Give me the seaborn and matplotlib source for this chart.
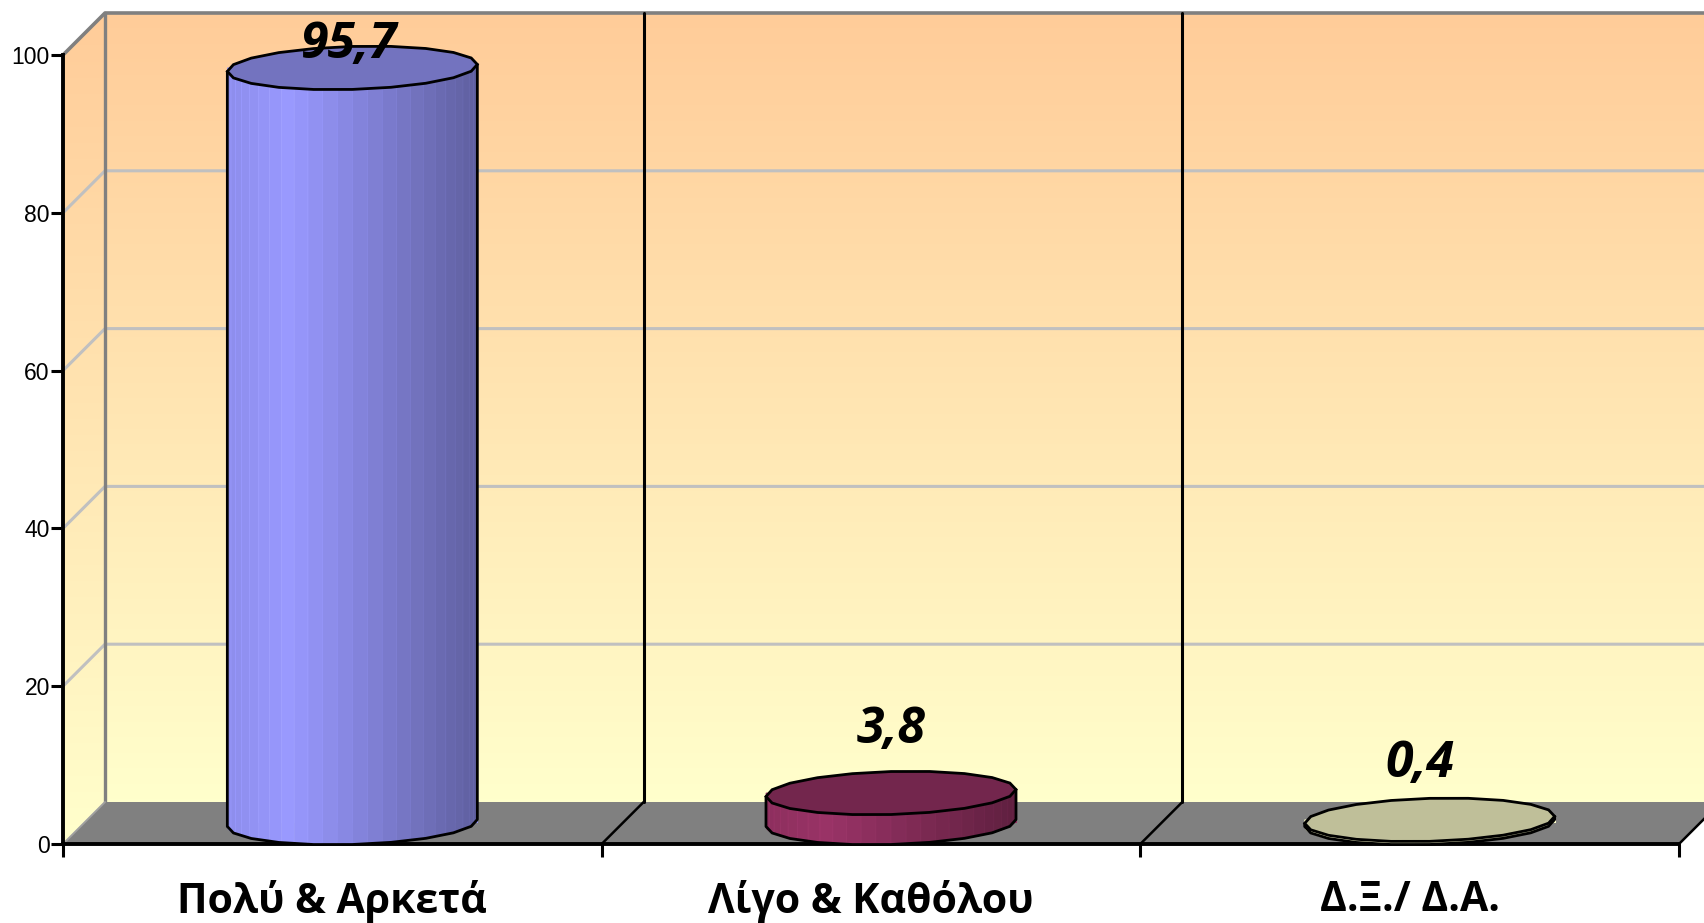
import numpy as np
import matplotlib
matplotlib.use("Agg")
import matplotlib.pyplot as plt
from matplotlib.colors import LinearSegmentedColormap, to_rgb
from matplotlib.patches import Polygon
from matplotlib.transforms import Affine2D
import seaborn as sns

# Data
categories = ["Πολύ & Αρκετά", "Λίγο & Καθόλου", "Δ.Ξ./ Δ.Α."]
values = [95.7, 3.8, 0.4]
y_ticks = [0, 20, 40, 60, 80, 100]
bar_colors = ["#9999FF", "#993366", "#FFFFCC"]

W, H = 1704, 923
left, right, top, bottom = 63, 1679, 55, 844
dx, dy = 42, 42   # depth of the fake 3D box
rx, ry = 125, 21.5  # cylinder ellipse
tilt = 3.5

sns.set_theme(style="white")
plt.rcParams["font.family"] = ["Open Sans", "DejaVu Sans"]

fig = plt.figure(figsize=(W / 100, H / 100), dpi=100, facecolor="white")

# Background box, in pixel coordinates
bg = fig.add_axes([0, 0, 1, 1], zorder=0)
cmap = LinearSegmentedColormap.from_list("wall", ["#FFCC99", "#FFFFCC"])
grad = np.linspace(0, 1, 256).reshape(-1, 1)

back = bg.imshow(grad, extent=[left + dx, W + 50, bottom - dy, top - dy], cmap=cmap, aspect="auto")
side = bg.imshow(grad, extent=[left, left + dx, bottom, top - dy], cmap=cmap, aspect="auto")
side_poly = Polygon([(left, top), (left + dx, top - dy), (left + dx, bottom - dy), (left, bottom)],
                    transform=bg.transData, fc="none", ec="none")
bg.add_patch(side_poly)
side.set_clip_path(side_poly)
bg.set_xlim(0, W)
bg.set_ylim(H, 0)
bg.axis("off")

bg.add_patch(Polygon([(left, bottom), (right, bottom), (right + dx, bottom - dy), (left + dx, bottom - dy)],
                     fc="#808080", ec="none", zorder=2))

# gridlines on the walls
span = bottom - top
for v in y_ticks[1:-1]:
    y = bottom - span * v / 100
    bg.plot([left, left + dx, W], [y, y - dy, y - dy], color="#C0C0C0", lw=2.2, zorder=3)
bg.plot([left, left + dx, W], [top, top - dy, top - dy], color="#808080", lw=2.6, zorder=3)
bg.plot([left + dx, left + dx], [top - dy, bottom - dy], color="#808080", lw=2.4, zorder=3)
bg.plot([left, left + dx], [bottom, bottom - dy], color="#A0A0A0", lw=1.4, zorder=3)

# Main axes with the real scales
ax = fig.add_axes([left / W, 1 - bottom / H, (right - left) / W, (bottom - top) / H], zorder=1)
ax.patch.set_alpha(0)
sns.barplot(x=categories, y=values, hue=categories, palette=bar_colors, width=0.464,
            legend=False, ax=ax, saturation=1, edgecolor="none")
ax.set_xlim(-0.5, 2.5)
ax.set_ylim(0, 100)
ax.set_yticks(y_ticks)
ax.set_xticks([-0.5, 0.5, 1.5, 2.5])
ax.set_xticklabels([])
ax.set_xticks([0, 1, 2], minor=True)
ax.set_xticklabels(categories, minor=True, fontsize=29.5, fontweight="bold", color="black")
ax.tick_params(axis="x", which="major", length=9.5, width=2.2, color="black", bottom=True)
ax.tick_params(axis="x", which="minor", length=0, pad=26)
ax.tick_params(axis="y", length=8.5, width=2.2, color="black", left=True, pad=1)
for lab in ax.get_yticklabels():
    lab.set_fontfamily("Liberation Sans")
    lab.set_fontsize(16.5)
    lab.set_color("black")
for name in ["top", "right"]:
    ax.spines[name].set_visible(False)
for name in ["left", "bottom"]:
    ax.spines[name].set_linewidth(2.8)
    ax.spines[name].set_color("black")
ax.set_xlabel("")
ax.set_ylabel("")

# category separators on wall and floor
for b in [0.5, 1.5, 2.5]:
    xb = ax.transData.transform((b, 0))[0]
    if b < 2.5:
        bg.plot([xb + dx, xb + dx], [top - dy, bottom - dy], color="black", lw=2.2, zorder=3)
    bg.plot([xb, xb + dx], [bottom, bottom - dy], color="black", lw=1.8, zorder=3)

# Cylinders on top of the bars, placed from the bar geometry
over = fig.add_axes([0, 0, 1, 1], zorder=2)
over.set_xlim(0, W)
over.set_ylim(H, 0)
over.axis("off")
over.patch.set_alpha(0)

bars = list(ax.patches)
shift = Affine2D().translate(dx / 2, dy / 2)
label_lift = [23, 63, 56]
label_shift = [-3, 0, -10]


def shade(t):
    return np.interp(t, [0, 0.25, 1], [0.92, 1.0, 0.62])


for bar, val, color, lift, sh in zip(bars, values, bar_colors, label_lift, label_shift):
    bar.set_transform(ax.transData + shift)
    xm = bar.get_x() + bar.get_width() / 2
    cx, ya = ax.transData.transform((xm, val))
    _, yb = ax.transData.transform((xm, 0))
    cx = cx + dx / 2 - 1
    y_top = H - ya - dy / 2
    y_bot = H - yb - dy / 2
    base = np.array(to_rgb(color))

    # body facets, narrow towards the silhouette
    th = np.linspace(np.pi, 0, 27)
    for i in range(len(th) - 1):
        a = np.linspace(th[i], th[i + 1], 3)
        xs = cx + rx * np.cos(a)
        ys = y_bot + ry * np.sin(a) - tilt * np.cos(a)
        t = (np.cos(th[i]) + np.cos(th[i + 1])) / 4 + 0.5
        c = np.clip(base * shade(t), 0, 1)
        edge = np.clip(c * 1.07, 0, 1)
        verts = [(xs[0], y_top)] + list(zip(xs, ys)) + [(xs[-1], y_top)]
        over.add_patch(Polygon(verts, fc=c, ec=edge, lw=0.5, zorder=4))

    # body outline
    a = np.linspace(np.pi, 0, 11)
    ox = cx + rx * np.cos(a)
    oy = y_bot + ry * np.sin(a) - tilt * np.cos(a)
    over.plot(np.r_[ox[0], ox, ox[-1]], np.r_[y_top + tilt, oy, y_top - tilt],
              color="black", lw=2.0, zorder=5, solid_joinstyle="round")

    # top cap
    a = np.linspace(0, 2 * np.pi, 21)[:-1]
    cap = np.c_[cx + rx * np.cos(a), y_top + ry * np.sin(a) - tilt * np.cos(a)]
    over.add_patch(Polygon(cap, fc=np.clip(base * 0.75, 0, 1), ec="black", lw=2.0, zorder=6))

    # value label
    over.text(cx + sh, y_top - lift, f"{val:.1f}".replace(".", ","),
              ha="center", va="center", fontsize=36, fontweight="bold", fontstyle="italic",
              color="black", zorder=7)

fig.savefig("out.png", dpi=100)
